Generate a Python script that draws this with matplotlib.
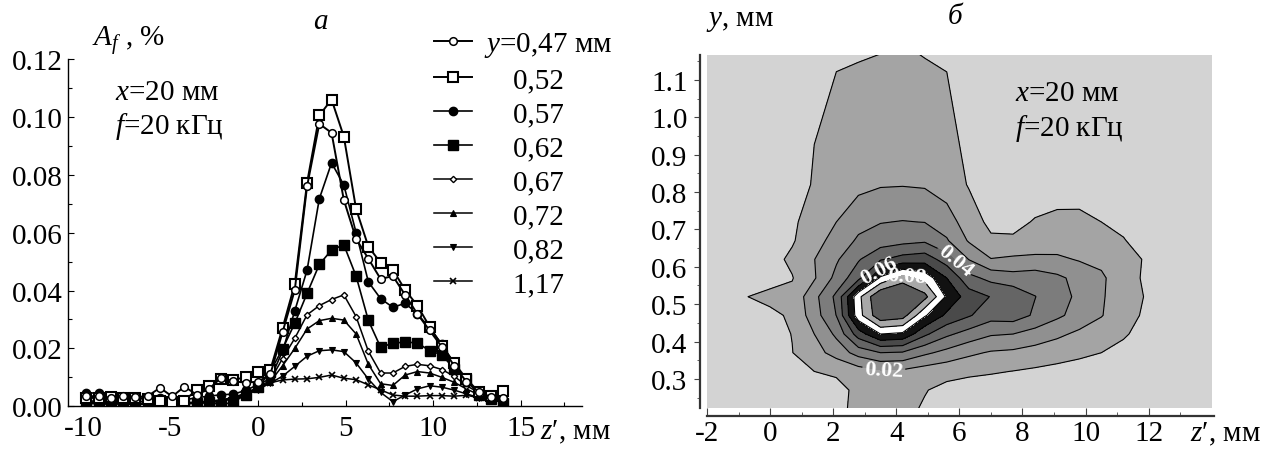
import numpy as np
import matplotlib
matplotlib.use("Agg")
import matplotlib.pyplot as plt
from matplotlib.ticker import MultipleLocator, FormatStrFormatter, FixedLocator

plt.rcParams['font.family'] = ['Liberation Serif', 'DejaVu Serif']
plt.rcParams['mathtext.fontset'] = 'custom'
plt.rcParams['mathtext.rm'] = 'Liberation Serif'
plt.rcParams['mathtext.it'] = 'Liberation Serif:italic'
plt.rcParams['axes.unicode_minus'] = False

# Streamwise position z', mm
z_pos = [-9.8, -9.1, -8.4, -7.7, -7.0, -6.3, -5.6, -4.9, -4.2, -3.5, -2.8, -2.1,
         -1.4, -0.7, 0.0, 0.7, 1.4, 2.1, 2.8, 3.5, 4.2, 4.9, 5.6, 6.3, 7.0, 7.7,
         8.4, 9.1, 9.8, 10.5, 11.2, 11.9, 12.6, 13.3, 14.0]

# Disturbance amplitude A_f, % at each height y
a_047 = [0.0036, 0.0034, 0.0030, 0.0036, 0.0032, 0.0035, 0.0064, 0.0034, 0.0068, 0.0040,
         0.0060, 0.0099, 0.0086, 0.0082, 0.0085, 0.0110, 0.0256, 0.0402, 0.0760, 0.0976,
         0.0945, 0.0713, 0.0579, 0.0510, 0.0440, 0.0450, 0.0385, 0.0319, 0.0262, 0.0205,
         0.0140, 0.0085, 0.0050, 0.0032, 0.0030]
a_052 = [0.0030, 0.0028, 0.0033, 0.0030, 0.0028, 0.0025, 0.0020, 0.0015, 0.0020, 0.0057,
         0.0071, 0.0094, 0.0092, 0.0100, 0.0118, 0.0125, 0.0270, 0.0423, 0.0772, 0.1005,
         0.1060, 0.0932, 0.0682, 0.0552, 0.0496, 0.0472, 0.0402, 0.0348, 0.0275, 0.0210,
         0.0150, 0.0095, 0.0050, 0.0035, 0.0054]
a_057 = [0.0046, 0.0046, 0.0032, 0.0028, 0.0030, 0.0026, 0.0030, 0.0026, 0.0022, 0.0030,
         0.0035, 0.0040, 0.0042, 0.0055, 0.0075, 0.0095, 0.0190, 0.0330, 0.0470, 0.0717,
         0.0841, 0.0765, 0.0600, 0.0430, 0.0372, 0.0342, 0.0356, 0.0320, 0.0270, 0.0215,
         0.0146, 0.0085, 0.0050, 0.0030, 0.0022]
a_062 = [0.0020, 0.0016, 0.0015, 0.0020, 0.0018, 0.0015, 0.0012, 0.0006, 0.0010, 0.0012,
         0.0015, 0.0005, 0.0015, 0.0040, 0.0065, 0.0120, 0.0198, 0.0287, 0.0390, 0.0490,
         0.0540, 0.0558, 0.0450, 0.0297, 0.0204, 0.0218, 0.0222, 0.0219, 0.0192, 0.0178,
         0.0129, 0.0094, 0.0040, 0.0025, 0.0012]
a_067 = [0.0015, 0.0012, 0.0010, 0.0012, 0.0010, 0.0010, 0.0012, 0.0010, 0.0012, 0.0015,
         0.0018, 0.0022, 0.0030, 0.0045, 0.0065, 0.0090, 0.0165, 0.0235, 0.0316, 0.0348,
         0.0369, 0.0385, 0.0310, 0.0190, 0.0115, 0.0115, 0.0138, 0.0145, 0.0140, 0.0127,
         0.0104, 0.0071, 0.0048, 0.0030, 0.0025]
a_072 = [0.0012, 0.0010, 0.0010, 0.0010, 0.0008, 0.0010, 0.0010, 0.0008, 0.0010, 0.0012,
         0.0015, 0.0020, 0.0028, 0.0042, 0.0062, 0.0085, 0.0140, 0.0200, 0.0267, 0.0296,
         0.0304, 0.0298, 0.0250, 0.0145, 0.0078, 0.0072, 0.0108, 0.0120, 0.0115, 0.0100,
         0.0083, 0.0060, 0.0040, 0.0025, 0.0020]
a_082 = [0.0010, 0.0008, 0.0008, 0.0008, 0.0006, 0.0008, 0.0008, 0.0006, 0.0008, 0.0010,
         0.0012, 0.0018, 0.0025, 0.0038, 0.0058, 0.0080, 0.0104, 0.0138, 0.0173, 0.0192,
         0.0195, 0.0189, 0.0150, 0.0094, 0.0048, 0.0016, 0.0039, 0.0060, 0.0071, 0.0066,
         0.0056, 0.0043, 0.0030, 0.0020, 0.0015]
a_117 = [0.0012, 0.0010, 0.0008, 0.0010, 0.0008, 0.0008, 0.0010, 0.0008, 0.0010, 0.0012,
         0.0015, 0.0022, 0.0030, 0.0045, 0.0065, 0.0081, 0.0091, 0.0094, 0.0095, 0.0100,
         0.0108, 0.0097, 0.0092, 0.0074, 0.0057, 0.0039, 0.0035, 0.0035, 0.0037, 0.0037,
         0.0035, 0.0038, 0.0030, 0.0022, 0.0018]

series = [a_047, a_052, a_057, a_062, a_067, a_072, a_082, a_117]
legend_labels = ['$y$=0,47 мм', '    0,52', '    0,57', '    0,62',
                 '    0,67', '    0,72', '    0,82', '    1,17']

# Additional near-wall rows used only in the (z', y) map, z' from -2.1 to 14.0
b_022 = [0.002, 0.002, 0.002, 0.003, 0.004, 0.005, 0.008, 0.0120, 0.0130, 0.0125, 0.0090, 0.0060,
         0.004, 0.003, 0.003, 0.003, 0.002, 0.002, 0.002, 0.002, 0.002, 0.002, 0.002, 0.002]
b_027 = [0.002, 0.002, 0.003, 0.003, 0.004, 0.006, 0.008, 0.0115, 0.0135, 0.0130, 0.0105, 0.0075,
         0.0055, 0.0045, 0.004, 0.0035, 0.003, 0.003, 0.0025, 0.002, 0.002, 0.002, 0.002, 0.002]
b_032 = [0.002, 0.003, 0.004, 0.005, 0.008, 0.0100, 0.0110, 0.0150, 0.0185, 0.0180, 0.0150, 0.0130,
         0.0120, 0.0110, 0.0098, 0.0085, 0.0072, 0.006, 0.005, 0.004, 0.003, 0.002, 0.002, 0.002]
b_037 = [0.003, 0.004, 0.005, 0.006, 0.0098, 0.0160, 0.0240, 0.0340, 0.0400, 0.0390, 0.0320, 0.0270,
         0.0220, 0.0190, 0.0180, 0.0160, 0.0140, 0.0120, 0.0100, 0.0075, 0.005, 0.003, 0.002, 0.002]
b_042 = [0.004, 0.005, 0.006, 0.007, 0.0102, 0.0200, 0.0320, 0.0550, 0.0700, 0.0680, 0.0520, 0.0420,
         0.0360, 0.0310, 0.0300, 0.0260, 0.0220, 0.0180, 0.0150, 0.0110, 0.0070, 0.0040, 0.0030, 0.0020]
map_heights = [0.22, 0.27, 0.32, 0.37, 0.42, 0.47, 0.52, 0.57, 0.62, 0.67, 0.72, 0.82, 1.17]
map_levels = [0.0, 0.01, 0.02, 0.03, 0.04, 0.05, 0.06, 0.07, 0.08, 0.09, 0.12]
map_colors = ['#d3d3d3', '#a4a4a4', '#909090', '#7c7c7c', '#656565', '#4a4a4a',
              '#121212', '#ffffff', '#a8a8a8', '#5a5a5a']
label_levels = [0.02, 0.04, 0.06, 0.08]
plain_levels = [0.01, 0.03, 0.05, 0.07, 0.09]

styles = [
    dict(marker='o', ms=5.5, mfc='white', mec='black', mew=1.1, lw=1.4),
    dict(marker='s', ms=6.5, mfc='white', mec='black', mew=1.5, lw=1.4),
    dict(marker='o', ms=6.0, mfc='black', mec='black', mew=1.0, lw=1.2),
    dict(marker='s', ms=7.5, mfc='black', mec='black', mew=1.0, lw=1.2),
    dict(marker='D', ms=3.2, mfc='white', mec='black', mew=1.0, lw=1.1),
    dict(marker='^', ms=4.2, mfc='black', mec='black', mew=0.8, lw=1.1),
    dict(marker='v', ms=4.6, mfc='black', mec='black', mew=0.8, lw=1.1),
    dict(marker='x', ms=5.0, mfc='black', mec='black', mew=1.2, lw=1.1),
]

FS = 21
W, H = 1268, 452
fig = plt.figure(figsize=(W / 100, H / 100), dpi=100)

# ---------- panel a: amplitude profiles ----------
ax1 = fig.add_axes([68 / W, 1 - 407.3 / H, 514 / W, 347.3 / H])
handles = []
for i, (vals, st, lab) in enumerate(zip(series, styles, legend_labels)):
    ln, = ax1.plot(z_pos, vals, color='black', label=lab, zorder=10 - i * 0.1, **st)
    handles.append(ln)

ax1.set_xlim(-10.85, 18.5)
ax1.set_ylim(0, 0.12)
ax1.spines['top'].set_visible(False)
ax1.spines['right'].set_visible(False)
ax1.spines['left'].set_linewidth(1.0)
ax1.spines['bottom'].set_linewidth(1.0)
ax1.xaxis.set_major_locator(FixedLocator([-10, -5, 0, 5, 10, 15]))
ax1.xaxis.set_minor_locator(FixedLocator([-7.5, -2.5, 2.5, 7.5, 12.5, 17.5]))
ax1.yaxis.set_major_locator(MultipleLocator(0.02))
ax1.yaxis.set_minor_locator(MultipleLocator(0.01))
ax1.yaxis.set_major_formatter(FormatStrFormatter('%.2f'))
ax1.tick_params(which='both', direction='in', labelsize=FS)
ax1.tick_params(which='major', length=4, width=0.8)
ax1.tick_params(which='minor', length=3, width=0.8)
ax1.tick_params(axis='x', pad=6)
ax1.tick_params(axis='y', pad=4)

leg = ax1.legend(handles=handles, loc='upper left',
                 bbox_to_anchor=(434 / W, 1 - 31 / H), bbox_transform=fig.transFigure,
                 frameon=False, fontsize=FS, handlelength=1.3, handletextpad=0.4,
                 labelspacing=0.26, borderpad=0, borderaxespad=0)

fig.text(92 / W, 1 - 40 / H, '$A_f$ , %', fontsize=FS, va='center', ha='left')
fig.text(320 / W, 1 - 22 / H, 'а', fontsize=FS, style='italic', va='center', ha='center')
fig.text(115 / W, 1 - 93 / H, '$x$=20 мм', fontsize=FS, va='center', ha='left')
fig.text(115 / W, 1 - 127 / H, '$f$=20 кГц', fontsize=FS, va='center', ha='left')
fig.text(540 / W, 1 - 432 / H, "$z$\u2032, мм", fontsize=FS, va='center', ha='left')

# ---------- panel б: amplitude map in the (z', y) plane ----------
ax2 = fig.add_axes([707 / W, 1 - 409 / H, 507 / W, 353 / H])
z_map = np.array(z_pos[11:])
amp_map = np.vstack([b_022, b_027, b_032, b_037, b_042] + [s[11:] for s in series])
ax2.contourf(z_map, map_heights, amp_map, levels=map_levels, colors=map_colors)
ax2.contour(z_map, map_heights, amp_map, levels=plain_levels,
            colors='black', linewidths=0.8)
cs = ax2.contour(z_map, map_heights, amp_map, levels=label_levels,
                 colors='black', linewidths=0.8)
lbl = ax2.clabel(cs, fmt='%.2f', colors='white', fontsize=16,
                 inline=True, inline_spacing=2,
                 manual=[(3.6, 0.33), (5.9, 0.62), (3.4, 0.595), (4.3, 0.56)])
for t in lbl:
    t.set_fontweight('bold')
ax2.set_xlim(-2.0, 14.07)
ax2.set_ylim(0.222, 1.167)
ax2.spines['top'].set_visible(False)
ax2.spines['right'].set_visible(False)
ax2.spines['left'].set_position(('outward', 5))
ax2.spines['bottom'].set_position(('outward', 6))
ax2.spines['left'].set_linewidth(1.6)
ax2.spines['bottom'].set_linewidth(1.6)
ax2.spines['left'].set_color('#333333')
ax2.spines['bottom'].set_color('#333333')
ax2.xaxis.set_major_locator(FixedLocator([-2, 0, 2, 4, 6, 8, 10, 12]))
ax2.xaxis.set_minor_locator(FixedLocator([-1, 1, 3, 5, 7, 9, 11, 13]))
ax2.yaxis.set_major_locator(FixedLocator([0.3, 0.4, 0.5, 0.6, 0.7, 0.8, 0.9, 1.0, 1.1]))
ax2.yaxis.set_minor_locator(FixedLocator([0.25, 0.35, 0.45, 0.55, 0.65, 0.75, 0.85, 0.95, 1.05, 1.15]))
ax2.yaxis.set_major_formatter(FormatStrFormatter('%.1f'))
ax2.tick_params(which='both', labelsize=FS, color='#444444')
ax2.tick_params(axis='x', which='both', direction='in', pad=3)
ax2.tick_params(axis='x', which='major', length=6)
ax2.tick_params(axis='x', which='minor', length=3)
ax2.tick_params(axis='y', which='both', direction='out', pad=5)
ax2.tick_params(axis='y', which='major', length=4)
ax2.tick_params(axis='y', which='minor', length=2)

fig.text(955 / W, 1 - 17 / H, 'б', fontsize=FS, style='italic', va='center', ha='center')
fig.text(706 / W, 1 - 21 / H, '$y$, мм', fontsize=FS, va='center', ha='left')
fig.text(1015 / W, 1 - 94 / H, '$x$=20 мм', fontsize=FS, va='center', ha='left')
fig.text(1015 / W, 1 - 128 / H, '$f$=20 кГц', fontsize=FS, va='center', ha='left')
fig.text(1190 / W, 1 - 434 / H, "$z$\u2032, мм", fontsize=FS, va='center', ha='left')

fig.savefig('out.png', dpi=100)
